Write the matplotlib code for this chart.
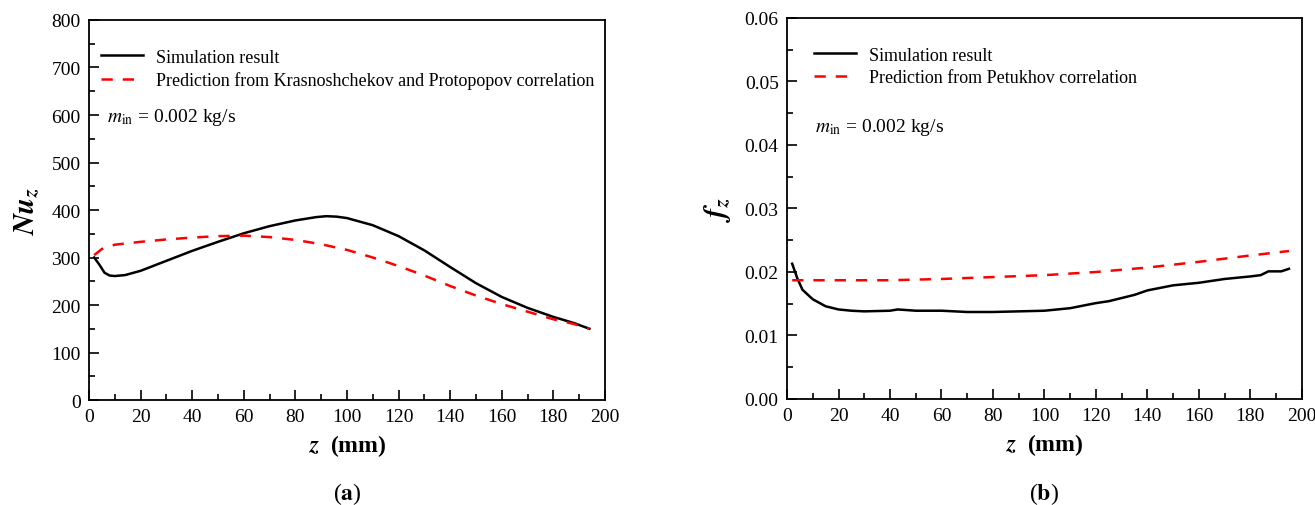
import numpy as np
import matplotlib.pyplot as plt
from matplotlib.ticker import MultipleLocator, FormatStrFormatter

plt.rcParams['font.family'] = 'Liberation Serif'
plt.rcParams['mathtext.fontset'] = 'stix'

# (a) local Nusselt number
z_sim_a = [2, 4, 6, 8, 10, 14, 20, 30, 40, 50, 60, 70, 80, 88, 92, 96, 100,
           110, 120, 130, 140, 150, 160, 170, 180, 188, 194]
nu_sim = [300, 285, 268, 262, 261, 263, 272, 293, 314, 333, 351, 366, 378, 385, 387,
          386, 383, 368, 345, 315, 280, 246, 217, 194, 175, 162, 150]
z_pred_a = [2, 5, 10, 20, 30, 40, 50, 60, 70, 80, 90, 100, 110, 120, 130,
            140, 150, 160, 170, 180, 188, 194]
nu_pred = [305, 318, 327, 333, 338, 342, 345, 346, 343, 337, 328, 316, 300, 282,
           262, 240, 220, 202, 186, 170, 160, 150]

# (b) local friction factor
z_sim_b = [2, 4, 6, 10, 15, 20, 25, 30, 40, 43, 50, 60, 70, 80, 90, 100, 105, 110,
           120, 125, 130, 135, 140, 145, 150, 160, 170, 180, 184, 187, 192, 195]
f_sim = [0.0213, 0.0190, 0.0172, 0.0157, 0.0146, 0.0141, 0.0139, 0.0138, 0.0139,
         0.0141, 0.0139, 0.0139, 0.0137, 0.0137, 0.0138, 0.0139, 0.0141, 0.0143,
         0.0151, 0.0154, 0.0159, 0.0164, 0.0171, 0.0175, 0.0179, 0.0183, 0.0189,
         0.0193, 0.0195, 0.0201, 0.0201, 0.0205]
z_pred_b = [2, 20, 40, 60, 80, 100, 120, 140, 160, 180, 195]
f_pred = [0.0187, 0.0187, 0.0187, 0.0189, 0.0192, 0.0195, 0.0200, 0.0207, 0.0216,
          0.0226, 0.0233]

sim_label = 'Simulation result'
pred_labels = ['Prediction from Krasnoshchekov and Protopopov correlation',
               'Prediction from Petukhov correlation']


def style_axes(ax, ymax, ymajor, yfmt):
    ax.set_xlim(0, 200)
    ax.set_ylim(0, ymax)
    ax.xaxis.set_major_locator(MultipleLocator(20))
    ax.xaxis.set_minor_locator(MultipleLocator(10))
    ax.yaxis.set_major_locator(MultipleLocator(ymajor))
    ax.yaxis.set_minor_locator(MultipleLocator(ymajor / 2))
    ax.yaxis.set_major_formatter(FormatStrFormatter(yfmt))
    ax.tick_params(which='both', direction='in', top=False, right=False,
                   labelsize=14, width=1.2)
    ax.tick_params(which='major', length=7, pad=6)
    ax.tick_params(which='minor', length=4)
    for s in ax.spines.values():
        s.set_linewidth(1.3)
    ax.set_xlabel(r'$\mathbfit{z}$  (mm)', fontsize=17, fontweight='bold', labelpad=5)


fig = plt.figure(figsize=(13.15, 5.06), dpi=100)
ax1 = fig.add_axes([0.0677, 0.2075, 0.3923, 0.751])
ax2 = fig.add_axes([0.5985, 0.2095, 0.3915, 0.753])

dash = (0, (4.5, 4))
leg_kw = dict(loc='upper left', frameon=False, fontsize=13, handlelength=2.3,
              handletextpad=0.75, labelspacing=0.3)

ax1.plot(z_sim_a, nu_sim, color='black', lw=1.8, label=sim_label)
ax1.plot(z_pred_a, nu_pred, color='red', lw=1.8, ls=dash, label=pred_labels[0])
style_axes(ax1, 800, 100, '%d')
ax1.set_ylabel(r'$\mathbfit{Nu}_{\mathbfit{z}}$', fontsize=21, labelpad=7)
ax1.legend(bbox_to_anchor=(-0.008, 0.967), **leg_kw)
ax1.text(0.035, 0.733, r'$m_{\mathrm{in}}$ = 0.002 kg/s', transform=ax1.transAxes,
         fontsize=14)

ax2.plot(z_sim_b, f_sim, color='black', lw=1.8, label=sim_label)
ax2.plot(z_pred_b, f_pred, color='red', lw=1.8, ls=dash, label=pred_labels[1])
style_axes(ax2, 0.06, 0.01, '%.2f')
ax2.set_ylabel(r'$\mathbfit{f}_{\mathbfit{z}}$', fontsize=21, labelpad=8)
ax2.legend(bbox_to_anchor=(0.021, 0.967), **leg_kw)
ax2.text(0.055, 0.703, r'$m_{\mathrm{in}}$ = 0.002 kg/s', transform=ax2.transAxes,
         fontsize=14)

fig.text(0.264, 0.012, r'($\mathbf{a}$)', ha='center', fontsize=17)
fig.text(0.794, 0.012, r'($\mathbf{b}$)', ha='center', fontsize=17)

fig.savefig('out.png', dpi=100)
